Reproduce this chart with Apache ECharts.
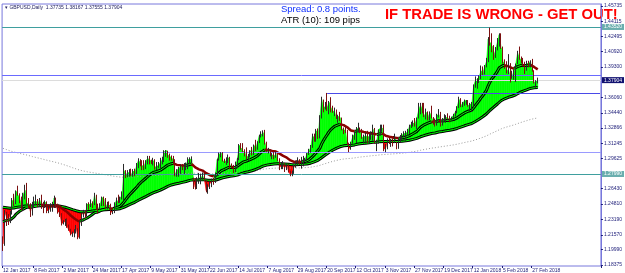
<!DOCTYPE html>
<html>
<head>
<meta charset="utf-8">
<script src="https://cdn.jsdelivr.net/npm/echarts@6/dist/echarts.min.js"></script>
<style>
  html, body { margin: 0; padding: 0; background: #fff; }
  #chart { width: 625px; height: 273px; }
</style>
</head>
<body>
<div id="chart"></div>
<script>
// GBPUSD daily, 16 Jan 2017 .. 2 Mar 2018
const closes = [
  // Jan 2017
  1.2060,1.2400,1.2340,1.2320,1.2370,1.2520,1.2470,1.2620,1.2580,1.2550,1.2470,1.2580,
  // Feb
  1.2625,1.2490,1.2480,1.2400,1.2480,1.2505,1.2510,1.2485,1.2525,1.2470,1.2460,1.2500,1.2410,1.2420,1.2450,1.2450,1.2545,1.2465,1.2405,1.2385,
  // Mar
  1.2275,1.2285,1.2300,1.2245,1.2205,1.2165,1.2170,1.2185,1.2220,1.2130,1.2290,1.2370,1.2400,1.2370,1.2480,1.2475,1.2490,1.2470,1.2575,1.2460,1.2430,1.2470,1.2550,
  // Apr
  1.2535,1.2440,1.2480,1.2470,1.2395,1.2410,1.2475,1.2525,1.2500,1.2550,1.2570,1.2835,1.2790,1.2810,1.2815,1.2790,1.2830,1.2810,1.2890,1.2945,
  // May
  1.2915,1.2885,1.2875,1.2935,1.2965,1.2945,1.2940,1.2940,1.2870,1.2880,1.2890,1.2920,1.2950,1.3030,1.3050,1.3000,1.2985,1.2970,1.2950,1.2790,1.2840,1.2855,1.2880,
  // Jun
  1.2875,1.2885,1.2890,1.2950,1.2955,1.2955,1.2745,1.2660,1.2740,1.2755,1.2760,1.2780,1.2735,1.2625,1.2665,1.2700,1.2720,1.2715,1.2795,1.2950,1.3005,1.3025,
  // Jul
  1.2940,1.2925,1.2945,1.2970,1.2885,1.2875,1.2830,1.2880,1.2960,1.3100,1.3070,1.3040,1.3025,1.2970,1.2995,1.3045,1.3005,1.3100,1.3065,1.3135,1.3205,
  // Aug
  1.3215,1.3235,1.3125,1.3040,1.3040,1.2995,1.3000,1.2990,1.3010,1.2940,1.2875,1.2880,1.2880,1.2870,1.2890,1.2820,1.2790,1.2815,1.2880,1.2925,1.2940,1.2915,1.2925,
  // Sep
  1.2955,1.2955,1.3015,1.3040,1.3075,1.3200,1.3185,1.3255,1.3185,1.3395,1.3585,1.3500,1.3510,1.3500,1.3555,1.3500,1.3460,1.3465,1.3385,1.3405,1.3395,
  // Oct
  1.3275,1.3265,1.3260,1.3115,1.3070,1.3125,1.3195,1.3220,1.3265,1.3285,1.3255,1.3185,1.3190,1.3205,1.3190,1.3195,1.3195,1.3270,1.3130,1.3135,1.3265,1.3280,
  // Nov
  1.3285,1.3060,1.3080,1.3160,1.3130,1.3160,1.3125,1.3190,1.3125,1.3150,1.3195,1.3210,1.3225,1.3230,1.3245,1.3305,1.3325,1.3335,1.3325,1.3390,1.3475,1.3525,
  // Dec
  1.3475,1.3410,1.3450,1.3390,1.3445,1.3400,1.3350,1.3330,1.3420,1.3425,1.3320,1.3360,1.3390,1.3395,1.3385,1.3375,1.3395,1.3420,1.3450,1.3510,
  // Jan 2018
  1.3585,1.3515,1.3550,1.3570,1.3575,1.3520,1.3535,1.3540,1.3725,1.3790,1.3795,1.3825,1.3890,1.3860,1.3930,1.3985,1.4225,1.4185,1.4150,1.4045,1.4110,1.4190,
  // Feb
  1.4270,1.4130,1.3985,1.3960,1.3885,1.3905,1.3820,1.3830,1.3885,1.3960,1.4075,1.4025,1.4000,1.3950,1.3920,1.3970,1.3960,1.3990,1.3890,1.3765,
  // Mar
  1.3775,1.37904
];
const highs = [
  1.2140,1.2417,1.2400,1.2375,1.2410,1.2545,1.2590,1.2625,1.2675,1.2595,1.2560,1.2600,
  1.2685,1.2705,1.2545,1.2490,1.2505,1.2560,1.2580,1.2535,1.2545,1.2580,1.2505,1.2520,1.2510,1.2460,1.2490,1.2505,1.2570,1.2550,1.2485,1.2445,
  1.2385,1.2310,1.2325,1.2330,1.2265,1.2220,1.2190,1.2215,1.2260,1.2225,1.2305,1.2390,1.2420,1.2410,1.2490,1.2500,1.2530,1.2510,1.2600,1.2580,1.2485,1.2490,1.2560,
  1.2560,1.2545,1.2505,1.2510,1.2485,1.2420,1.2500,1.2550,1.2580,1.2560,1.2615,1.2905,1.2840,1.2840,1.2850,1.2855,1.2850,1.2855,1.2915,1.2965,
  1.2955,1.2945,1.2945,1.2945,1.2990,1.2990,1.2950,1.2970,1.2955,1.2925,1.2925,1.2970,1.2980,1.3050,1.3050,1.3045,1.3015,1.2995,1.2990,1.2955,1.2850,1.2875,1.2900,
  1.2905,1.2915,1.2920,1.2975,1.2975,1.2985,1.2760,1.2755,1.2765,1.2810,1.2800,1.2815,1.2815,1.2735,1.2690,1.2720,1.2750,1.2760,1.2815,1.2960,1.3025,1.3030,
  1.3030,1.2960,1.2975,1.3005,1.2980,1.2910,1.2895,1.2930,1.2970,1.3115,1.3125,1.3125,1.3060,1.3080,1.3010,1.3050,1.3085,1.3110,1.3160,1.3145,1.3215,
  1.3250,1.3260,1.3265,1.3140,1.3075,1.3060,1.3020,1.3030,1.3030,1.3015,1.2965,1.2925,1.2935,1.2915,1.2905,1.2905,1.2835,1.2835,1.2900,1.2940,1.2975,1.2955,1.2980,
  1.2990,1.2970,1.3020,1.3065,1.3105,1.3225,1.3225,1.3275,1.3280,1.3420,1.3615,1.3585,1.3560,1.3655,1.3570,1.3610,1.3520,1.3500,1.3480,1.3425,1.3455,
  1.3395,1.3290,1.3300,1.3265,1.3130,1.3140,1.3215,1.3250,1.3295,1.3340,1.3290,1.3275,1.3215,1.3240,1.3255,1.3225,1.3250,1.3320,1.3285,1.3160,1.3270,1.3320,
  1.3320,1.3320,1.3115,1.3175,1.3180,1.3170,1.3175,1.3225,1.3140,1.3180,1.3210,1.3230,1.3250,1.3255,1.3275,1.3320,1.3350,1.3365,1.3390,1.3395,1.3550,1.3550,
  1.3550,1.3550,1.3490,1.3460,1.3460,1.3520,1.3400,1.3385,1.3435,1.3485,1.3455,1.3390,1.3430,1.3420,1.3440,1.3415,1.3405,1.3435,1.3465,1.3515,
  1.3615,1.3600,1.3560,1.3585,1.3580,1.3580,1.3550,1.3560,1.3745,1.3830,1.3810,1.3840,1.3945,1.3935,1.3950,1.4025,1.4245,1.4345,1.4285,1.4160,1.4140,1.4235,
  1.4285,1.4285,1.4145,1.4010,1.3990,1.4065,1.3970,1.3890,1.3905,1.3965,1.4100,1.4145,1.4040,1.4025,1.3985,1.3995,1.3995,1.4000,1.4015,1.3895,
  1.3790,1.38167
];
const lows = [
  1.1986,1.2040,1.2250,1.2260,1.2280,1.2370,1.2460,1.2480,1.2570,1.2490,1.2415,1.2410,
  1.2530,1.2480,1.2440,1.2345,1.2360,1.2440,1.2470,1.2450,1.2450,1.2430,1.2385,1.2440,1.2385,1.2385,1.2400,1.2400,1.2440,1.2440,1.2380,1.2345,
  1.2255,1.2265,1.2250,1.2230,1.2200,1.2150,1.2135,1.2130,1.2170,1.2110,1.2115,1.2250,1.2340,1.2330,1.2350,1.2420,1.2450,1.2440,1.2470,1.2420,1.2380,1.2420,1.2460,
  1.2460,1.2430,1.2425,1.2450,1.2365,1.2375,1.2385,1.2460,1.2490,1.2495,1.2530,1.2520,1.2755,1.2765,1.2770,1.2775,1.2770,1.2775,1.2800,1.2860,
  1.2880,1.2840,1.2840,1.2850,1.2900,1.2900,1.2905,1.2890,1.2845,1.2840,1.2860,1.2860,1.2900,1.2925,1.2980,1.2970,1.2940,1.2940,1.2910,1.2775,1.2770,1.2770,1.2800,
  1.2840,1.2800,1.2840,1.2850,1.2900,1.2915,1.2640,1.2635,1.2640,1.2695,1.2690,1.2740,1.2725,1.2605,1.2590,1.2640,1.2660,1.2685,1.2705,1.2780,1.2940,1.2975,
  1.2930,1.2915,1.2895,1.2915,1.2850,1.2860,1.2810,1.2820,1.2860,1.2945,1.3055,1.3030,1.2985,1.2955,1.2935,1.2975,1.2995,1.3000,1.3040,1.3055,1.3125,
  1.3185,1.3195,1.3110,1.3030,1.3015,1.2985,1.2955,1.2955,1.2970,1.2935,1.2840,1.2850,1.2850,1.2820,1.2840,1.2815,1.2775,1.2775,1.2800,1.2865,1.2890,1.2895,1.2855,
  1.2880,1.2925,1.2935,1.3000,1.3025,1.3075,1.3140,1.3140,1.3170,1.3175,1.3385,1.3450,1.3480,1.3465,1.3430,1.3450,1.3445,1.3410,1.3380,1.3340,1.3360,
  1.3260,1.3220,1.3230,1.3105,1.3030,1.3055,1.3120,1.3160,1.3125,1.3240,1.3230,1.3170,1.3120,1.3135,1.3125,1.3125,1.3160,1.3150,1.3120,1.3040,1.3120,1.3205,
  1.3245,1.3040,1.3030,1.3060,1.3115,1.3085,1.3090,1.3125,1.3060,1.3065,1.3130,1.3160,1.3185,1.3150,1.3200,1.3220,1.3285,1.3300,1.3300,1.3275,1.3385,1.3430,
  1.3440,1.3400,1.3375,1.3365,1.3365,1.3385,1.3320,1.3300,1.3310,1.3395,1.3300,1.3310,1.3355,1.3340,1.3375,1.3345,1.3365,1.3385,1.3405,1.3440,
  1.3495,1.3505,1.3505,1.3520,1.3530,1.3510,1.3460,1.3455,1.3510,1.3710,1.3700,1.3760,1.3800,1.3845,1.3850,1.3925,1.3980,1.4155,1.4085,1.4005,1.4025,1.4105,
  1.4145,1.4120,1.3965,1.3910,1.3860,1.3855,1.3765,1.3805,1.3795,1.3770,1.3960,1.4005,1.3970,1.3935,1.3855,1.3890,1.3925,1.3925,1.3880,1.3755,
  1.3710,1.37555
];
const firstOpen = 1.2130;

// moving averages: periods and the values they had at the left edge of the picture
const midPeriod = 21, slowPeriod = 75, longPeriod = 200;
const midSeed = 1.2320, slowSeed = 1.2457, longSeed = 1.3080;

// price scale labels
const priceLabels = [1.18375, 1.19990, 1.21570, 1.23190, 1.24810, 1.26430, 1.29625, 1.31245,
  1.32866, 1.34440, 1.36060, 1.39300, 1.40920, 1.42495, 1.44115, 1.45735];

// time scale labels
const timeLabels = ['12 Jan 2017', '8 Feb 2017', '2 Mar 2017', '24 Mar 2017', '17 Apr 2017', '9 May 2017',
  '31 May 2017', '22 Jun 2017', '14 Jul 2017', '7 Aug 2017', '29 Aug 2017', '20 Sep 2017', '12 Oct 2017',
  '3 Nov 2017', '27 Nov 2017', '19 Dec 2017', '12 Jan 2018', '5 Feb 2018', '27 Feb 2018'];

// horizontal levels
const resistTop = 1.4352, blueLevel = 1.3844, sepHigh = 1.3654, midLevel = 1.3031, support = 1.2799;
const sepHighDate = '20 Sep 2017';
const lastPrice = 1.37904;

const months = ['Jan','Feb','Mar','Apr','May','Jun','Jul','Aug','Sep','Oct','Nov','Dec'];
function tradingDays(count) {
  const out = [];
  let t = Date.UTC(2017, 0, 16);
  while (out.length < count) {
    const d = new Date(t);
    const wd = d.getUTCDay(), m = d.getUTCMonth(), day = d.getUTCDate();
    const holiday = (m === 11 && day === 25) || (m === 0 && day === 1);
    if (wd > 0 && wd < 6 && !holiday) out.push(day + ' ' + months[m] + ' ' + d.getUTCFullYear());
    t += 86400000;
  }
  return out;
}
function ema(src, period, seed) {
  const k = 2 / (period + 1);
  let v = seed;
  return src.map(c => (v = v + k * (c - v)));
}
// keep a point when one of its two neighbouring segments goes the wanted way
function bySlope(arr, up) {
  const goes = i => (up ? arr[i + 1] >= arr[i] : arr[i + 1] < arr[i]);
  return arr.map((v, i) => ((i > 0 && goes(i - 1)) || (i < arr.length - 1 && goes(i)) ? v : null));
}

const n = closes.length;
const dates = tradingDays(n);
const shift = 34;
const cats = dates.concat(Array.from({ length: shift }, (_, i) => 'pad' + i));

const candles = closes.map((c, i) => [i === 0 ? firstOpen : closes[i - 1], c, lows[i], highs[i]]);
const mid = ema(closes, midPeriod, midSeed);
const slow = ema(closes, slowPeriod, slowSeed);
const long = ema(closes, longPeriod, longSeed);
const midUp = bySlope(mid, true);
const midDown = bySlope(mid, false);

const labelAt = {};
timeLabels.forEach(t => {
  const idx = dates.indexOf(t);
  labelAt[idx < 0 ? 0 : idx] = t;
});

const fillRows = [];
for (let i = 0; i < n - 1; i++) fillRows.push([i, closes[i], slow[i], closes[i + 1], slow[i + 1]]);

const GREEN = '#00ff00', RED = '#ff0000';
function renderFill(params, api) {
  const i = api.value(0);
  const f0 = api.value(1), s0 = api.value(2), f1 = api.value(3), s1 = api.value(4);
  const a = api.coord([i, f0]), b = api.coord([i, s0]);
  const c = api.coord([i + 1, f1]), d = api.coord([i + 1, s1]);
  const d0 = f0 - s0, d1 = f1 - s1;
  const poly = (pts, up) => ({
    type: 'polygon',
    shape: { points: pts },
    style: { fill: up ? GREEN : RED, stroke: up ? GREEN : RED, lineWidth: 0.6 }
  });
  if (d0 * d1 >= 0) {
    return poly([a, c, d, b], d0 + d1 >= 0);
  }
  const t = d0 / (d0 - d1);
  const p = [a[0] + (c[0] - a[0]) * t, a[1] + (c[1] - a[1]) * t];
  return { type: 'group', children: [poly([a, p, b], d0 > 0), poly([p, c, d], d1 > 0)] };
}

const FONT = 'Liberation Sans, Arial, sans-serif';
const AXIS_TXT = '#1c1c78';
const FRAME = '#7878dc';
const line = (name, data, color, width, z) => ({
  type: 'line', name, data, symbol: 'none', silent: true, z, connectNulls: false,
  lineStyle: { color, width }
});
const boxLabel = (text, bg) => ({
  show: true, position: 'end', distance: 1, formatter: text, fontSize: 5, fontFamily: FONT,
  color: '#ffffff', backgroundColor: bg, padding: [1, 2, 0, 2]
});

const chart = echarts.init(document.getElementById('chart'));
chart.setOption({
  animation: false,
  backgroundColor: '#fff',
  grid: { left: 1, top: 4, width: 602, height: 262, show: true, borderColor: FRAME, borderWidth: 1, backgroundColor: '#fff' },
  xAxis: {
    type: 'category',
    data: cats,
    boundaryGap: true,
    axisLine: { show: false },
    axisTick: { show: true, interval: i => labelAt[i] !== undefined, length: 2, lineStyle: { color: AXIS_TXT } },
    axisLabel: {
      interval: i => labelAt[i] !== undefined,
      formatter: (v, i) => labelAt[i] || '',
      fontSize: 5, fontFamily: FONT, color: AXIS_TXT, align: 'left', margin: 2
    },
    splitLine: { show: false }
  },
  yAxis: {
    type: 'value',
    position: 'right',
    min: 1.18269,
    max: 1.45946,
    axisLine: { show: true, lineStyle: { color: FRAME } },
    axisTick: { show: true, customValues: priceLabels, length: 2, lineStyle: { color: AXIS_TXT } },
    axisLabel: {
      customValues: priceLabels,
      formatter: v => v.toFixed(5),
      fontSize: 5, fontFamily: FONT, color: AXIS_TXT, margin: 3
    },
    splitLine: { show: false }
  },
  series: [
    {
      type: 'custom',
      name: 'fill',
      data: fillRows,
      encode: { x: 0, y: [1, 2, 3, 4] },
      renderItem: renderFill,
      clip: true,
      silent: true,
      z: 1
    },
    {
      type: 'line', name: 'ema200', data: long, symbol: 'none', silent: true, z: 2,
      lineStyle: { color: '#9a9a9a', width: 1, type: [1, 2] },
      markLine: {
        silent: true, symbol: 'none', animation: false, precision: 5,
        label: { show: false },
        data: [
          { yAxis: resistTop, lineStyle: { color: '#3f9f9f', width: 1, type: 'solid' }, label: boxLabel('1.43520', '#6aaeae') },
          { yAxis: blueLevel, lineStyle: { color: '#6a6aff', width: 1, type: 'solid' } },
          { yAxis: lastPrice, lineStyle: { color: '#dcdcdc', width: 1, type: 'solid' }, label: boxLabel('1.37904', '#101070') },
          [{ coord: [sepHighDate, sepHigh], lineStyle: { color: '#4a4ae8', width: 1, type: 'solid' } },
           { coord: [cats[cats.length - 1], sepHigh] }],
          { yAxis: midLevel, lineStyle: { color: '#9a9aff', width: 1, type: 'solid' } },
          { yAxis: support, lineStyle: { color: '#3f9f9f', width: 1, type: 'solid' }, label: boxLabel('1.27990', '#6aaeae') }
        ]
      }
    },
    line('slowOuter', slow, '#000', 3, 3),
    line('slowInner', slow, GREEN, 1, 4),
    line('midOuter', midUp, '#000', 3, 3),
    line('midInner', midUp, GREEN, 1, 4),
    line('midFalling', midDown, '#8b0000', 2.5, 4),
    {
      type: 'candlestick', name: 'GBPUSD', data: candles, barWidth: 1, silent: true, z: 5,
      itemStyle: { color: '#2a2a2a', color0: '#7a1010', borderColor: '#2a2a2a', borderColor0: '#7a1010', borderWidth: 1 }
    }
  ],
  graphic: [
    { type: 'text', left: 5, top: 5, style: { text: '\u25BE GBPUSD,Daily  1.37735 1.38167 1.37555 1.37904', font: '5px ' + FONT, fill: '#202060' } },
    { type: 'text', left: 281, top: 4, style: { text: 'Spread: 0.8 points.', font: '9.5px ' + FONT, fill: '#1030ff' } },
    { type: 'text', left: 281, top: 15, style: { text: 'ATR (10): 109 pips', font: '9.5px ' + FONT, fill: '#000000' } },
    { type: 'text', left: 385, top: 7, style: { text: 'IF TRADE IS WRONG - GET OUT!', font: 'bold 14.8px ' + FONT, fill: '#ff0000' } }
  ]
});
</script>
</body>
</html>
